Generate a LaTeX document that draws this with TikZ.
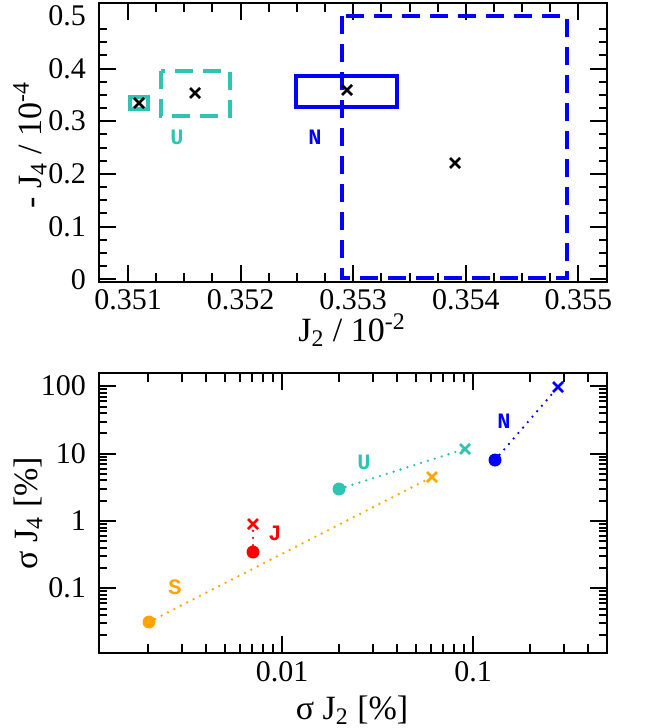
\documentclass[tikz,border=0pt]{standalone}
\usepackage{fontspec}
\setmainfont{Liberation Serif}
\newfontfamily\labfont{Liberation Mono}
\usepackage{tikz}
\definecolor{teal2}{RGB}{47,196,178}
\definecolor{orng}{RGB}{255,165,0}
\tikzset{frame/.style={draw, line width=1pt},
  ticklab/.style={font=\fontsize{15}{15}\selectfont},
  axlab/.style={font=\fontsize{17}{17}\selectfont},
  tag/.style={font=\labfont\bfseries\fontsize{11}{11}\selectfont},
  box/.style={line width=2pt},
  dashbox/.style={line width=2pt, dash pattern=on 9pt off 5pt},
  dotline/.style={line width=1.3pt, line cap=round, dash pattern=on 0pt off 3.6pt},
  dot/.style={circle, fill, inner sep=0pt, minimum size=6.5pt}}
\newcommand{\xmark}[3]{\draw[#1, line width=#3] (#2) +(-5,-5) -- +(5,5) (#2) +(-5,5) -- +(5,-5);}
\begin{document}
\begin{tikzpicture}[x=0.5pt,y=-0.5pt]
\useasboundingbox (0,0) rectangle (664,728);
% upper panel
\draw[frame] (99,3) rectangle (607,282);
\foreach \k in {0,...,16}{
  \pgfmathsetmacro\xx{128+28.15*\k}
  \pgfmathsetmacro\len{ifthenelse(mod(\k,4)==0,17,9)}
  \draw[line width=1pt] (\xx,282) -- ++(0,-\len) (\xx,3) -- ++(0,\len);}
\foreach \k in {0,...,19}{
  \pgfmathsetmacro\yy{279.3-13.17*\k}
  \pgfmathsetmacro\len{ifthenelse(mod(\k,4)==0,17,8)}
  \draw[line width=1pt] (99,\yy) -- ++(\len,0) (607,\yy) -- ++(-\len,0);}
\foreach \v [count=\i from 0] in {0.351,0.352,0.353,0.354,0.355}
  \node[ticklab] at (128+112.6*\i,300) {\v};
\foreach \v [count=\i from 0] in {0,0.1,0.2,0.3,0.4,0.5}
  \node[ticklab, anchor=east] at (93,279.3-52.7*\i) {\v};
\node[axlab] (xtop) at (352,330) {J\textsubscript{2} / 10\textsuperscript{-2}};
\node[axlab, rotate=90] (ytop) at (30,145) {- J\textsubscript{4} / 10\textsuperscript{-4}};
\draw[teal2, box] (130,97) rectangle (148,109);
\draw[teal2, dashbox] (161,71) rectangle (230,116);
\draw[blue, box] (296,76) rectangle (397,107);
\draw[blue, dashbox] (342,16) rectangle (567,278);
\coordinate (u1) at (139,103); \coordinate (u2) at (195,93);
\coordinate (n1) at (347,90); \coordinate (n2) at (455,163);
\xmark{black}{u1}{1.3pt}
\xmark{black}{u2}{1.3pt}
\xmark{black}{n1}{1.3pt}
\xmark{black}{n2}{1.3pt}
\node[tag, teal2] (utop) at (177,137) {U};
\node[tag, blue] (ntop) at (315,137) {N};
% lower panel
\draw[frame] (99,373) rectangle (607,653);
\foreach \d in {-3,-2,-1}{
  \foreach \m in {1,...,9}{
    \pgfmathsetmacro\xx{282+191*(\d+2+log10(\m))}
    \pgfmathsetmacro\len{ifthenelse(\m==1,17,9)}
    \pgfmathparse{and(\xx>100,\xx<606)}
    \ifnum\pgfmathresult=1
      \draw[line width=1pt] (\xx,653) -- ++(0,-\len) (\xx,373) -- ++(0,\len);
    \fi}}
\foreach \d in {-2,...,2}{
  \foreach \m in {1,...,9}{
    \pgfmathsetmacro\yy{521-67.3*(\d+log10(\m))}
    \pgfmathsetmacro\len{ifthenelse(\m==1,17,8)}
    \pgfmathparse{and(\yy>374,\yy<652)}
    \ifnum\pgfmathresult=1
      \draw[line width=1pt] (99,\yy) -- ++(\len,0) (607,\yy) -- ++(-\len,0);
    \fi}}
\node[ticklab] at (282,672) {0.01};
\node[ticklab] at (473,672) {0.1};
\foreach \v [count=\i from 0] in {0.1,1,10,100}
  \node[ticklab, anchor=east] at (93,588-67.3*\i) {\v};
\node[axlab] (xbot) at (352,710) {σ J\textsubscript{2} [\%]};
\node[axlab, rotate=90] (ybot) at (28,513) {σ J\textsubscript{4} [\%]};
\node[dot, orng] (s1) at (149,622) {};
\coordinate (s2) at (432,477);
\node[dot, red] (j1) at (253,552) {};
\coordinate (j2) at (253,524);
\node[dot, teal2] (t1) at (339,489) {};
\coordinate (t2) at (465,449);
\node[dot, blue] (b1) at (495,460) {};
\coordinate (b2) at (558,387);
\draw[orng, dotline] (s1) -- (s2);
\draw[red, dotline] (j1) -- (j2);
\draw[teal2, dotline] (t1) -- (t2);
\draw[blue, dotline] (b1) -- (b2);
\xmark{orng}{s2}{1.3pt}
\xmark{red}{j2}{1.3pt}
\xmark{teal2}{t2}{1.3pt}
\xmark{blue}{b2}{1.3pt}
\node[tag, orng] (slab) at (175,587) {S};
\node[tag, red] (jlab) at (275,533) {J};
\node[tag, teal2] (ulab) at (364,462) {U};
\node[tag, blue] (nlab) at (504,421) {N};
\end{tikzpicture}
\end{document}
